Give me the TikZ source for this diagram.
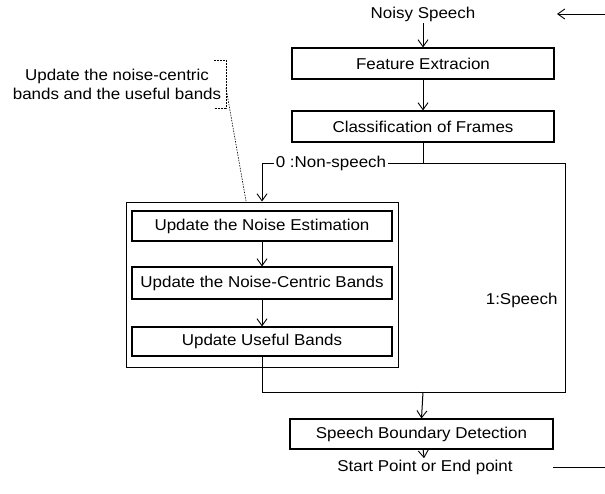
\documentclass[tikz,border=0pt]{standalone}
\usepackage{fontspec}
\setmainfont{Liberation Sans}[FakeStretch=1.08]
\usetikzlibrary{arrows.meta}
\begin{document}
\begin{tikzpicture}[x=1pt,y=-1pt,
  font=\fontsize{15.7}{19}\selectfont,
  line width=1pt,
  tip/.style={-{Straight Barb[length=7pt,width=10pt,line width=0.9pt]}},
  box/.style={draw,line width=1.1pt,inner sep=0pt,minimum height=30pt},
  lbl/.style={inner sep=1pt}]
\useasboundingbox (0,0) rectangle (605,493);

% main chain
\node[lbl] (noisy) at (423,14) {Noisy Speech};
\node[box,minimum width=262pt,minimum height=31pt] (fe) at (423,63.5) {Feature Extracion};
\node[box,minimum width=262pt,minimum height=31pt] (cf) at (423,126.5) {Classification of Frames};

% noise update group
\node[draw,line width=1pt,minimum width=272pt,minimum height=165pt,inner sep=0pt] (grp) at (262,284.5) {};
\node[box,minimum width=260pt] (ne) at (262,226) {Update the Noise Estimation};
\node[box,minimum width=260pt,minimum height=32pt] (nc) at (262,283) {Update the Noise-Centric Bands};
\node[box,minimum width=260pt,minimum height=29pt] (ub) at (262,341.5) {Update Useful Bands};

\node[box,minimum width=263pt] (sb) at (421.5,434) {Speech Boundary Detection};
\node[lbl] (res) at (425,467) {Start Point or End point};

% routing points
\coordinate (inR) at (605,14);
\coordinate (inTip) at (557,14);
\coordinate (split) at (423,163);
\coordinate (lc) at (262,163);
\coordinate (rc) at (565,163);
\coordinate (lb) at (262,392);
\coordinate (rb) at (565,392);
\coordinate (merge) at (423,392);
\coordinate (outL) at (553,467);
\coordinate (outR) at (605,467);

% connectors
\draw[tip] (inR) -- (inTip);
\draw[tip] (noisy) -- (fe);
\draw[tip] (fe) -- (cf);
\draw (cf.south) -- (split);
\draw[tip] (rc) -- (lc) -- (grp.north);
\draw[tip] (ne) -- (nc);
\draw[tip] (nc) -- (ub);
\draw (ub.south) -- (lb) -- (rb) -- (rc);
\draw[tip] (merge) -- (sb.north);
\draw[tip] (sb) -- (res);
\draw (outL) -- (outR);

% branch labels
\node[lbl,fill=white,inner xsep=2pt] (ns) at (331,163) {0 :Non-speech};
\node[lbl,anchor=east] (sp) at (559,300) {1:Speech};

% annotation
\node[lbl,align=center] (note) at (117,84.5) {Update the noise-centric\\bands and the useful bands};
\coordinate (bt) at (214,60);
\coordinate (btr) at (226,60);
\coordinate (bbr) at (226,108);
\coordinate (bb) at (214,108);
\coordinate (bm) at (226,88);
\coordinate (bend) at (246,201);
\draw[line width=0.6pt,dash pattern=on 2pt off 1pt] (bt) -- (btr) -- (bbr) -- (bb);
\draw[line width=0.6pt,dash pattern=on 1.5pt off 1.2pt] (bm) -- (bend);
\end{tikzpicture}
\end{document}
